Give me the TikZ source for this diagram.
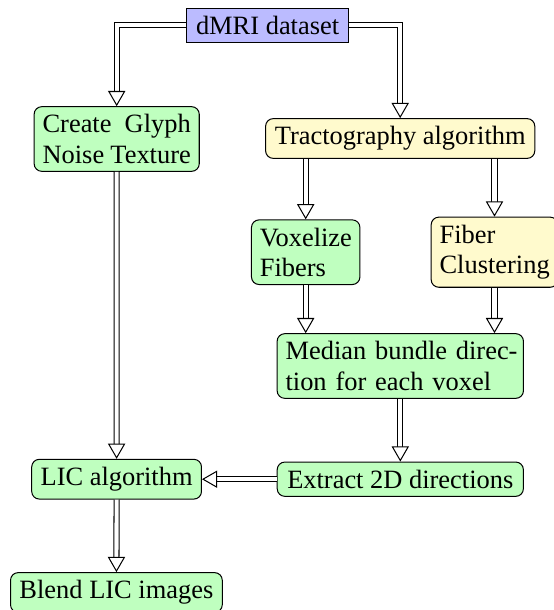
\documentclass[tikz,border=0pt]{standalone}
\usepackage{fontspec}
\setmainfont{Liberation Serif}
\usetikzlibrary{arrows.meta}
\definecolor{boxgreen}{RGB}{191,255,191}
\definecolor{boxblue}{RGB}{187,187,255}
\definecolor{boxyellow}{RGB}{255,250,205}
\begin{document}
\begin{tikzpicture}[x=0.3953pt,y=-0.3953pt,
  font=\fontsize{10.45}{12}\selectfont,
  base/.style={draw=black, line width=0.4pt, inner xsep=3.33pt, inner ysep=3.1pt},
  greenbox/.style={base, rounded corners=3pt, fill=boxgreen},
  yellowbox/.style={base, rounded corners=3pt, fill=boxyellow},
  bluebox/.style={base, fill=boxblue},
  arr/.style={draw=black, line width=0.4pt, double=white, double distance=1.6pt,
    -{Triangle[length=6pt, width=6.8pt, line width=0.4pt, fill=white]}}
]
\useasboundingbox (0,0) rectangle (554,610);
\clip (0,0) rectangle (554,610);
\node[bluebox, minimum width=63.75pt] (dmri) at (267.6,25.4) {dMRI dataset};
\node[greenbox, text width=58.6pt, align=justify] (create) at (116.7,139) {Create Glyph Noise Texture};
\node[yellowbox, minimum width=106.4pt] (tract) at (400.2,138.5) {Tractography algorithm};
\node[greenbox, text width=36.2pt, align=left] (vox) at (305.7,252.2) {Voxelize\\Fibers};
\node[yellowbox, text width=43.4pt, align=left] (fiber) at (494.5,252.2) {Fiber\\Clustering};
\node[greenbox, text width=90.7pt, align=left] (median) at (400.3,366) {\mbox{Median bundle direc-}\\\mbox{tion for each voxel}};
\node[greenbox, minimum width=97.3pt] (extract) at (400.3,479.2) {Extract 2D directions};
\node[greenbox, minimum width=67.1pt] (lic) at (116.6,479.2) {LIC algorithm};
\node[greenbox, minimum width=83.7pt] (blend) at (116.4,592.5) {Blend LIC images};
\draw[arr] (dmri.west) -| (create.north);
\draw[arr] (dmri.east) -| (tract.north);
\draw[arr] (tract.south -| vox.north) -- (vox.north);
\draw[arr] (tract.south -| fiber.north) -- (fiber.north);
\draw[arr] (vox.south) -- (vox.south |- median.north);
\draw[arr] (fiber.south) -- (fiber.south |- median.north);
\draw[arr] (median) -- (extract);
\draw[arr] (extract) -- (lic);
\draw[arr] (create) -- (lic);
\draw[arr] (lic) -- (blend);
\end{tikzpicture}
\end{document}
